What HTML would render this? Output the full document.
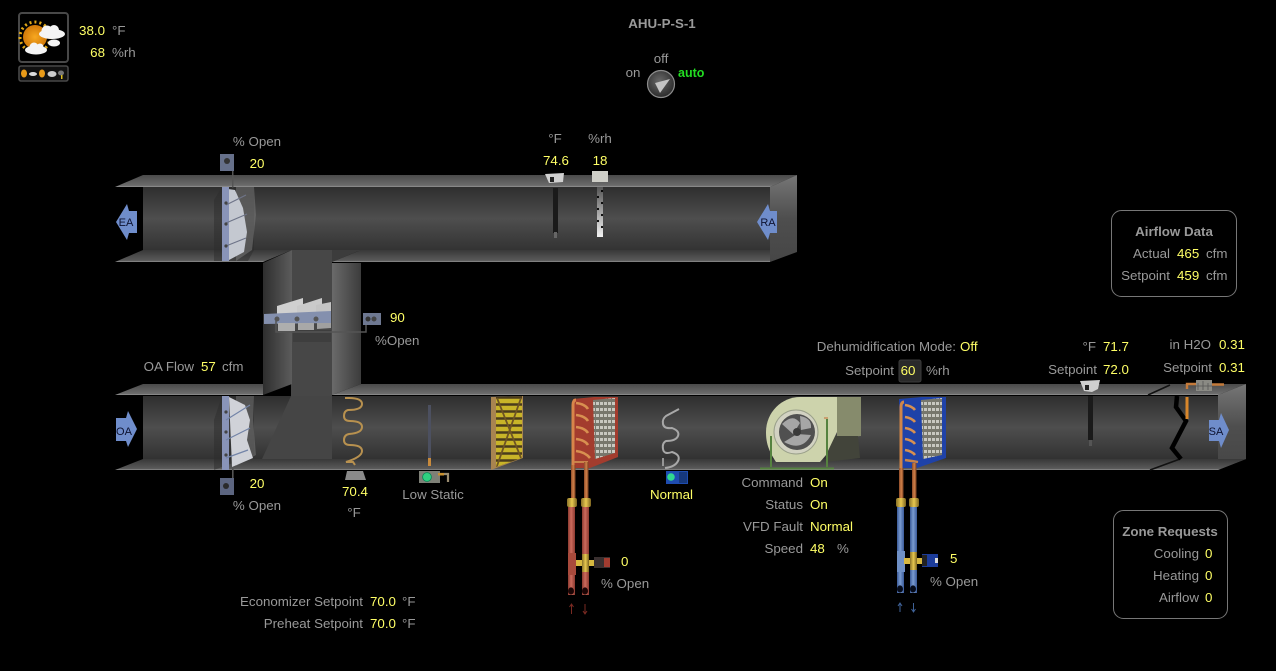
<!DOCTYPE html>
<html><head><meta charset="utf-8"><style>
html,body{margin:0;padding:0;background:#000;width:1276px;height:671px;overflow:hidden}
svg{display:block}
text{font-family:"Liberation Sans",Arial,sans-serif;font-size:13.33px;fill:#999}
.y{fill:#ffff66}.b{font-weight:bold}.r{text-anchor:end}.c{text-anchor:middle}
.a{font-size:11px;fill:#0d1230;text-anchor:middle}
</style></head><body>
<svg width="1276" height="671" viewBox="0 0 1276 671" xmlns="http://www.w3.org/2000/svg">
<defs>
<linearGradient id="in" x1="0" y1="0" x2="0" y2="1"><stop offset="0" stop-color="#2e2e2e"/><stop offset=".5" stop-color="#4e4e4e"/><stop offset="1" stop-color="#323232"/></linearGradient>
<linearGradient id="pl" x1="0" y1="0" x2="0" y2="1"><stop offset="0" stop-color="#4a4a4a"/><stop offset=".88" stop-color="#6c6c6c"/><stop offset="1" stop-color="#979797"/></linearGradient>
<linearGradient id="pb" x1="0" y1="0" x2="0" y2="1"><stop offset="0" stop-color="#383838"/><stop offset=".88" stop-color="#5a5a5a"/><stop offset="1" stop-color="#949494"/></linearGradient>
<linearGradient id="wl" x1="0" y1="0" x2="1" y2="0"><stop offset="0" stop-color="#2e2e2e"/><stop offset="1" stop-color="#5c5c5c"/></linearGradient>
<linearGradient id="wr" x1="0" y1="0" x2="1" y2="0"><stop offset="0" stop-color="#6a6a6a"/><stop offset="1" stop-color="#3c3c3c"/></linearGradient>
<linearGradient id="end" x1="0" y1="0" x2="0" y2="1"><stop offset="0" stop-color="#767676"/><stop offset=".5" stop-color="#4e4e4e"/><stop offset="1" stop-color="#464646"/></linearGradient>
<linearGradient id="red" x1="0" y1="0" x2="1" y2="0"><stop offset="0" stop-color="#8c3a30"/><stop offset=".45" stop-color="#cc6a5c"/><stop offset="1" stop-color="#8c3a30"/></linearGradient>
<linearGradient id="blu" x1="0" y1="0" x2="1" y2="0"><stop offset="0" stop-color="#3a5a98"/><stop offset=".45" stop-color="#7a9bd0"/><stop offset="1" stop-color="#3a5a98"/></linearGradient>
<linearGradient id="cop" x1="0" y1="0" x2="1" y2="0"><stop offset="0" stop-color="#8a4a28"/><stop offset=".5" stop-color="#d08048"/><stop offset="1" stop-color="#7a4020"/></linearGradient>
<linearGradient id="brs" x1="0" y1="0" x2="1" y2="0"><stop offset="0" stop-color="#8a7228"/><stop offset=".5" stop-color="#e8c850"/><stop offset="1" stop-color="#7c6420"/></linearGradient>
<linearGradient id="hum" x1="0" y1="0" x2="0" y2="1"><stop offset="0" stop-color="#555"/><stop offset="1" stop-color="#f4f4f4"/></linearGradient>
<radialGradient id="knob" cx=".45" cy=".4" r=".65"><stop offset="0" stop-color="#6a6a6a"/><stop offset="1" stop-color="#262626"/></radialGradient>
<radialGradient id="sun" cx=".5" cy=".5" r=".5"><stop offset="0" stop-color="#f8a820"/><stop offset="1" stop-color="#d07808"/></radialGradient>
<pattern id="fin" width="4" height="6" patternUnits="userSpaceOnUse"><rect width="4" height="6" fill="#77776c"/><rect width="3" height="3" fill="#c8c8c0"/></pattern>
<clipPath id="fc"><polygon points="496,397 522,396 522,458 496,467"/></clipPath>
</defs>

<!-- UPPER DUCT -->
<rect x="143" y="187" width="627" height="64" fill="url(#in)"/>
<polygon points="115,187 143,175 797,175 770,187" fill="url(#pl)"/>
<polygon points="770,187 797,175 797,252 770,262" fill="url(#end)"/>
<rect x="291" y="250" width="41" height="146" fill="#474747"/>
<polygon points="332,250 361,250 332,262" fill="#3c3c3c"/>
<polygon points="263,263 292,250 292,384 263,395" fill="url(#wl)"/>
<polygon points="332,263 361,263 361,384 332,395" fill="url(#wr)"/>
<polygon points="115,262 263,262 292,250 143,250" fill="url(#pb)"/>
<polygon points="332,262 770,262 770,250 361,250" fill="url(#pb)"/>
<rect x="361" y="263" width="420" height="121" fill="#000"/>
<rect x="115" y="263" width="148" height="121" fill="#000"/>
<!-- LOWER DUCT -->
<rect x="143" y="396" width="1075" height="63" fill="url(#in)"/>
<polygon points="291,396 332,396 332,459 262,459" fill="#454545"/>
<polygon points="332,395 361,384 1246,384 1218,395" fill="url(#pl)"/>
<polygon points="1218,395 1246,384 1246,459 1218,470" fill="url(#end)"/>
<polygon points="115,470 143,459 1246,459 1218,470" fill="url(#pb)"/>
<polygon points="115,395 143,384 263,384 263,395" fill="url(#pl)"/>
<!-- duct break -->
<path d="M1148,395 L1170,385 M1150,470 L1180,459" fill="none" stroke="#111" stroke-width="1.600"/>
<path d="M1177,396 L1176,407 L1186,421 L1172,448 L1181,459" fill="none" stroke="#000" stroke-width="4.500"/>

<!-- ARROWS -->
<polygon points="116,222 127,204 129,211 137,211 137,233 129,233 127,240" fill="#6f8dcb"/>
<text x="126" y="226" class="a">EA</text>
<polygon points="757,222 768,204 770,211 777,211 777,233 770,233 768,240" fill="#6f8dcb"/>
<text x="768" y="226" class="a">RA</text>
<polygon points="116,418 126,418 128,411 137,429 128,447 126,441 116,441" fill="#6f8dcb"/>
<text x="124" y="435" class="a">OA</text>
<polygon points="1209,420 1219,420 1221,413 1229,430 1221,448 1219,441 1209,441" fill="#6f8dcb"/>
<text x="1216" y="435" class="a">SA</text>

<!-- EA DAMPER -->
<rect x="232" y="158" width="1.500" height="30" fill="#555"/>
<rect x="220" y="154" width="14" height="17" fill="#66708a"/><circle cx="227" cy="161" r="3" fill="#333"/>
<polygon points="214,200 222,187 254,187 254,250 248,261 214,261" fill="#2c2c2c" opacity=".5"/>
<polygon points="236,187 254,187 256,215 252,250 236,261" fill="#777" opacity=".55"/>
<polygon points="228,189 235,190 243,208 247,232 244,252 229,260" fill="#c4c8d0"/>
<polygon points="222,187 229,187 229,261 222,261" fill="#8994b8"/>
<path d="M226,205 L246,195 M226,223 L247,214 M226,246 L246,238" stroke="#6e7488" stroke-width="1.200"/>
<circle cx="226" cy="203" r="1.600" fill="#444"/><circle cx="226" cy="224" r="1.600" fill="#444"/><circle cx="226" cy="246" r="1.600" fill="#444"/>

<!-- OA DAMPER -->
<polygon points="214,420 222,396 254,396 254,455 214,470" fill="#2c2c2c" opacity=".5"/>
<polygon points="236,396 254,396 253,420 256,455 236,466" fill="#777" opacity=".5"/>
<polygon points="229,397 245,405 250,420 247,440 253,458 232,467" fill="#d0d2d8"/>
<polygon points="222,396 229,396 229,470 222,470" fill="#8994b8"/>
<path d="M226,420 L250,405 M226,440 L250,428 M226,458 L248,450" stroke="#7384a8" stroke-width="1.200"/>
<circle cx="226" cy="412" r="1.600" fill="#444"/><circle cx="226" cy="432" r="1.600" fill="#444"/><circle cx="226" cy="455" r="1.600" fill="#444"/>
<rect x="232" y="468" width="1.600" height="12" fill="#555"/>
<rect x="220" y="478" width="14" height="17" fill="#5c6580"/><circle cx="226" cy="486" r="3" fill="#2a2a2a"/>

<!-- RELIEF DAMPER -->
<polygon points="293,330 331,330 331,342 293,342" fill="#333" opacity=".4"/>
<polygon points="277,306 303,298 303,315 277,322" fill="#d0d0d0"/>
<polygon points="297,306 322,298 322,315 297,322" fill="#cacaca"/>
<polygon points="316,305 331,302 331,316 316,320" fill="#c4c4c4"/>
<polygon points="264,314 331,311 331,323 264,324" fill="#8490ae"/>
<polygon points="278,323 295,323 295,331 278,331" fill="#aeaeae"/>
<polygon points="298,323 314,323 314,330 298,330" fill="#a8a8a8"/>
<polygon points="317,323 331,323 331,328 317,329" fill="#a0a0a0"/>
<circle cx="277" cy="319" r="2.500" fill="#555"/><circle cx="297" cy="319" r="2.500" fill="#555"/><circle cx="316" cy="319" r="2.500" fill="#555"/>
<path d="M276,321 V332 H366 V324" fill="none" stroke="#555" stroke-width="1.500"/>
<rect x="363" y="313" width="18" height="12" fill="#6e7891"/><circle cx="368" cy="319" r="2.500" fill="#333"/><circle cx="374" cy="319" r="2.500" fill="#444"/>

<!-- RA SENSORS -->
<rect x="553" y="188" width="5" height="45" fill="#1a1a1a"/><rect x="554" y="232" width="3" height="6" fill="#666"/>
<polygon points="545,174 564,173 563,182 549,183" fill="#d0d0d0"/><rect x="550" y="177" width="4" height="5" fill="#222"/>
<rect x="592" y="171" width="16" height="11" fill="#cfcfc8"/>
<rect x="597" y="187" width="6" height="50" fill="url(#hum)"/>
<circle cx="602" cy="191" r="1.100" fill="#000"/><circle cx="598" cy="197" r="1.100" fill="#000"/><circle cx="602" cy="203" r="1.100" fill="#000"/><circle cx="598" cy="209" r="1.100" fill="#000"/><circle cx="602" cy="215" r="1.100" fill="#000"/><circle cx="598" cy="221" r="1.100" fill="#000"/><circle cx="602" cy="227" r="1.100" fill="#000"/>

<!-- MAT COIL SENSOR -->
<path d="M345,398 H349 Q362,398 362,404 T348,410 Q344,411 344,416 T350,421 Q362,421 362,427 T349,434 Q344,435 344,440 T350,445 Q362,445 362,451 T346,462 H353 L355,465" fill="none" stroke="#b8914f" stroke-width="2"/>
<polygon points="347,471 363,471 366,480 345,480" fill="#8a8a8a"/>
<!-- LOW STATIC -->
<rect x="428" y="405" width="3" height="57" fill="#4c5060"/><rect x="428" y="458" width="3" height="8" fill="#c88a3c"/>
<rect x="419" y="471" width="21" height="12" fill="#7e8077"/><circle cx="427" cy="477" r="4.400" fill="#2ed080" stroke="#085" stroke-width=".8"/>
<path d="M438,474 H448 V482" fill="none" stroke="#9a8c70" stroke-width="2.200"/><rect x="438" y="473" width="6" height="2.500" fill="#c89030"/>

<!-- FILTER -->
<polygon points="491,397 523,396 523,458 491,470" fill="#a88450"/>
<polygon points="496,397 522,396 522,458 496,467" fill="#4a3c1c"/>
<g clip-path="url(#fc)">
<path d="M496,401 H522 M496,408 H522 M496,415 H522 M496,422 H522 M496,429 H522 M496,436 H522 M496,443 H522 M496,450 H522 M496,457 H522 M496,464 H522" stroke="#c8b428" stroke-width="4.400"/>
<path d="M497,398 L521,458 M521,398 L497,466" stroke="#6e5424" stroke-width="1.800"/>
</g>

<!-- HEAT COIL -->
<polygon points="573,399 594,397 618,397 618,457 590,468 573,468" fill="#a33c2e"/>
<polygon points="593,400 615,398 615,453 595,459" fill="url(#fin)"/>
<path d="M576,400 C574,400 573,402 573,405 V468" fill="none" stroke="#d8854a" stroke-width="3"/>
<path d="M576,403 Q585,404 588,409 M576,415 Q585,416 588,421 M576,427 Q585,428 588,433 M576,439 Q585,440 588,445 M576,451 Q585,452 590,458" fill="none" stroke="#d89050" stroke-width="2.600"/>
<path d="M574,462 H588" stroke="#c8844a" stroke-width="2"/>
<rect x="571" y="465" width="4.500" height="37" fill="url(#cop)"/><rect x="584" y="462" width="4.500" height="40" fill="url(#cop)"/>
<rect x="568" y="507" width="7" height="88" fill="url(#red)"/><rect x="582" y="507" width="7" height="88" fill="url(#red)"/>
<rect x="567" y="498" width="10" height="9" rx="2" fill="url(#brs)"/><rect x="581" y="498" width="10" height="9" rx="2" fill="url(#brs)"/>
<rect x="568" y="553" width="8" height="22" fill="#a84a3c"/>
<rect x="576" y="560" width="20" height="6" fill="#d8b840"/><rect x="582" y="554" width="7" height="18" fill="url(#brs)"/>
<rect x="594" y="557" width="16" height="11" fill="#3a3030"/><rect x="604" y="558" width="6" height="9" fill="#a23c30"/>
<ellipse cx="571" cy="591" rx="3" ry="3.600" fill="#1a0505"/><ellipse cx="585" cy="591" rx="3" ry="3.600" fill="#1a0505"/>
<path d="M571.500,614 V604 M569.500,607 L571.500,604 L573.500,607 M585,604 V614 M583,611 L585,614 L587,611" fill="none" stroke="#7a2a22" stroke-width="1"/>

<!-- HUMIDIFIER -->
<path d="M679,409 L666,416 Q662,419 663,424 T672,428 Q680,431 678,436 T666,441 Q662,443 663,449 T672,452 Q681,455 678,461 T665,468" fill="none" stroke="#a8a8a8" stroke-width="2"/>
<path d="M663,458 V466" stroke="#aaa" stroke-width="1.600"/>
<rect x="666" y="471" width="22" height="13" fill="#1e4cb0"/><rect x="679" y="472" width="8" height="11" fill="#16387c"/>
<circle cx="671" cy="477" r="3.800" fill="#30d890"/>

<!-- FAN -->
<polygon points="837,397 861,397 861,436 837,438" fill="#868b6c"/>
<polygon points="830,436 858,436 860,458 826,462" fill="#42443a"/>
<path d="M800,397 H837 V432 L826,455 L820,462 H776 C768,450 766,442 766,432 C766,412 782,397 800,397 Z" fill="#cdd3ac"/>
<circle cx="796" cy="432" r="22" fill="#d2d2c2" stroke="#9aa08a" stroke-width="1"/>
<circle cx="797" cy="432" r="18" fill="#505050"/>
<path d="M782,424 Q793,413 800,423 L793,434 Z M784,442 Q802,452 811,435 L797,434 Z M800,416 Q812,418 811,428 L801,430 Z" fill="#a6a6a6"/>
<circle cx="797" cy="432" r="4" fill="#3a3a3a"/>
<path d="M760,468.500 H834 M827,418 V467 M771,436 V467" stroke="#55823f" stroke-width="2" fill="none"/>
<path d="M824,418 H828" stroke="#caa070" stroke-width="2"/>

<!-- COOL COIL -->
<polygon points="899,399 922,397 946,397 946,458 917,468 901,468" fill="#1f42a8"/>
<polygon points="921,400 942,398 942,455 923,459" fill="url(#fin)"/>
<path d="M904,402 C902,402 901,404 901,407 V468" fill="none" stroke="#d08548" stroke-width="3"/>
<path d="M905,405 Q912,406 915,410 M905,417 Q912,418 915,422 M905,428 Q912,429 915,433 M905,439 Q912,440 915,444 M905,450 Q912,451 915,455" fill="none" stroke="#d89050" stroke-width="2.600"/>
<path d="M905,460 Q912,461 918,462" fill="none" stroke="#c8844a" stroke-width="2.400"/>
<rect x="899" y="468" width="4.500" height="34" fill="url(#cop)"/><rect x="912" y="463" width="4.500" height="39" fill="url(#cop)"/>
<rect x="897" y="507" width="7" height="86" fill="url(#blu)"/><rect x="910" y="507" width="7" height="86" fill="url(#blu)"/>
<rect x="896" y="498" width="10" height="9" rx="2" fill="url(#brs)"/><rect x="909" y="498" width="10" height="9" rx="2" fill="url(#brs)"/>
<rect x="897" y="551" width="8" height="21" fill="#6f90c6"/>
<rect x="904" y="558" width="20" height="6" fill="#d8b840"/><rect x="910" y="552" width="7" height="18" fill="url(#brs)"/>
<rect x="922" y="554" width="16" height="13" fill="#1c3c9a"/><rect x="922" y="555" width="5" height="11" fill="#222"/><rect x="935" y="558" width="3" height="5" fill="#ddd"/>
<ellipse cx="900" cy="589" rx="3" ry="3.600" fill="#050a18"/><ellipse cx="913" cy="589" rx="3" ry="3.600" fill="#050a18"/>
<path d="M900,612 V603 M898,606 L900,603 L902,606 M913.500,603 V612 M911.500,609 L913.500,612 L915.500,609" fill="none" stroke="#3f6298" stroke-width="1"/>

<!-- SAT SENSOR -->
<rect x="1088" y="396" width="5" height="44" fill="#1a1a1a"/><rect x="1089" y="440" width="3" height="6" fill="#555"/>
<polygon points="1080,381 1100,380 1098,389 1092,392 1084,391" fill="#d0d0d0"/><rect x="1085" y="385" width="4" height="5" fill="#222"/>
<!-- STATIC SENSOR -->
<rect x="1196" y="380" width="16" height="11" fill="#8a8a84"/>
<path d="M1198,383 V390 M1203,381 V390 M1208,383 V390 M1196,386 H1212" stroke="#555" stroke-width=".8"/>
<path d="M1187,389 V384 H1196 M1212,384.500 H1224" fill="none" stroke="#c47a3a" stroke-width="2.400"/>
<rect x="1185.500" y="397" width="3" height="22" fill="#d8862a"/>

<!-- WEATHER -->
<rect x="19" y="13" width="49" height="49" rx="3" fill="#000" stroke="#484848" stroke-width="2"/>
<rect x="19" y="66" width="49" height="15" rx="2" fill="#111" stroke="#484848" stroke-width="1.600"/>
<circle cx="35" cy="37" r="15" fill="none" stroke="#e0a818" stroke-width="3" stroke-dasharray="2 3"/>
<circle cx="35" cy="37" r="12" fill="url(#sun)"/>
<g fill="#f4f4f4"><ellipse cx="52" cy="34" rx="13" ry="5"/><circle cx="47" cy="31" r="5.500"/><circle cx="54" cy="30" r="5"/><ellipse cx="36" cy="50" rx="11" ry="4.500"/><circle cx="34" cy="47" r="4.500"/><circle cx="40" cy="47" r="3.500"/><ellipse cx="54" cy="43" rx="6" ry="3.500"/></g>
<ellipse cx="24" cy="73.500" rx="3" ry="4" fill="#e89a18"/><ellipse cx="33" cy="74" rx="4" ry="2" fill="#ddd"/><ellipse cx="42" cy="73.500" rx="3" ry="4" fill="#e89a18"/><ellipse cx="52" cy="74" rx="4.500" ry="3" fill="#ccc"/><ellipse cx="61" cy="73" rx="3" ry="2.500" fill="#777"/><rect x="61" y="75" width="1.500" height="4" fill="#e0c020"/>

<!-- KNOB -->
<circle cx="661" cy="84" r="13.500" fill="url(#knob)" stroke="#8c8c8c" stroke-width="1.200"/>
<polygon points="670,79 655,83 660,93" fill="#c4c4c4"/>

<!-- TEXT -->
<text x="662" y="28" class="c b">AHU-P-S-1</text>
<text x="105" y="35" class="r y">38.0</text><text x="112" y="35">°F</text>
<text x="105" y="57" class="r y">68</text><text x="112" y="57">%rh</text>
<text x="633" y="77" class="c">on</text><text x="661" y="63" class="c">off</text>
<text x="678" y="77" class="b" style="fill:#22dd22;font-size:12.500px">auto</text>

<text x="257" y="146" class="c">% Open</text><text x="257" y="168" class="c y">20</text>
<text x="555" y="143" class="c">°F</text><text x="600" y="143" class="c">%rh</text>
<text x="556" y="165" class="c y">74.6</text><text x="600" y="165" class="c y">18</text>
<text x="390" y="322" class="y">90</text><text x="375" y="345">%Open</text>
<text x="194" y="371" class="r">OA Flow</text><text x="201" y="371" class="y">57</text><text x="222" y="371">cfm</text>
<text x="257" y="488" class="c y">20</text><text x="257" y="510" class="c">% Open</text>
<text x="355" y="496" class="c y">70.4</text><text x="354" y="517" class="c">°F</text>
<text x="433" y="499" class="c">Low Static</text>
<text x="671.500" y="499" class="c y">Normal</text>
<text x="803" y="487" class="r">Command</text><text x="810" y="487" class="y">On</text>
<text x="803" y="509" class="r">Status</text><text x="810" y="509" class="y">On</text>
<text x="803" y="531" class="r">VFD Fault</text><text x="810" y="531" class="y">Normal</text>
<text x="803" y="553" class="r">Speed</text><text x="810" y="553" class="y">48</text><text x="837" y="553">%</text>
<text x="621" y="566" class="y">0</text><text x="601" y="588">% Open</text>
<text x="950" y="563" class="y">5</text><text x="930" y="586">% Open</text>
<text x="956" y="351" class="r">Dehumidification Mode:</text><text x="960" y="351" class="y">Off</text>
<text x="894" y="375" class="r">Setpoint</text>
<rect x="899" y="360" width="22" height="22" rx="2" fill="#2a2a2a" stroke="#3c3c3c"/>
<text x="908" y="375" class="c y">60</text><text x="926" y="375">%rh</text>
<text x="1096" y="351" class="r">°F</text><text x="1103" y="351" class="y">71.7</text>
<text x="1097" y="374" class="r">Setpoint</text><text x="1103" y="374" class="y">72.0</text>
<text x="1211" y="349" class="r">in H2O</text><text x="1219" y="349" class="y">0.31</text>
<text x="1212" y="372" class="r">Setpoint</text><text x="1219" y="372" class="y">0.31</text>

<rect x="1111.500" y="210.500" width="125" height="86" rx="10" fill="none" stroke="#777"/>
<text x="1174" y="236" class="c b">Airflow Data</text>
<text x="1170" y="258" class="r">Actual</text><text x="1177" y="258" class="y">465</text><text x="1206" y="258">cfm</text>
<text x="1170" y="280" class="r">Setpoint</text><text x="1177" y="280" class="y">459</text><text x="1206" y="280">cfm</text>

<rect x="1113.500" y="510.500" width="114" height="108" rx="10" fill="none" stroke="#777"/>
<text x="1170" y="536" class="c b">Zone Requests</text>
<text x="1199" y="558" class="r">Cooling</text><text x="1205" y="558" class="y">0</text>
<text x="1199" y="580" class="r">Heating</text><text x="1205" y="580" class="y">0</text>
<text x="1199" y="602" class="r">Airflow</text><text x="1205" y="602" class="y">0</text>

<text x="363" y="606" class="r">Economizer Setpoint</text><text x="370" y="606" class="y">70.0</text><text x="402" y="606">°F</text>
<text x="363" y="628" class="r">Preheat Setpoint</text><text x="370" y="628" class="y">70.0</text><text x="402" y="628">°F</text>
</svg>
</body></html>
